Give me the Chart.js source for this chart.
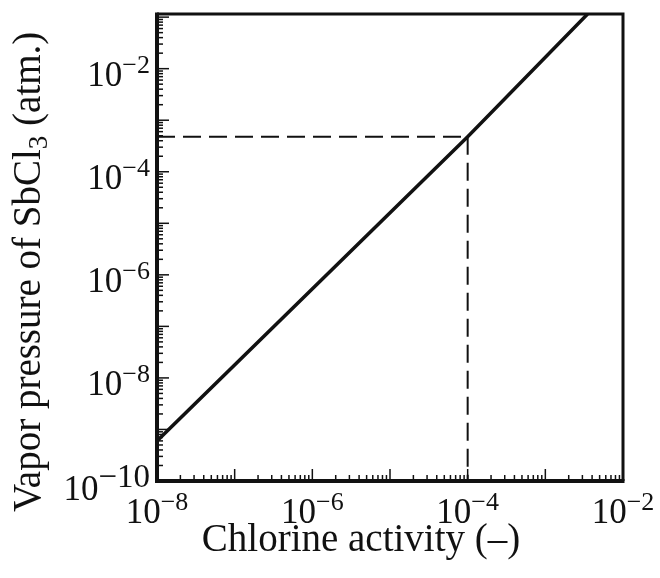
<!DOCTYPE html>
<html>
<head>
<meta charset="utf-8">
<title>SbCl3 vapor pressure vs chlorine activity</title>
<script src="https://cdn.jsdelivr.net/npm/chart.js"></script>
</head>
<body style="margin:0; background:#fff;">
<canvas id="c" width="660" height="578"></canvas>
<script>
// data
const lineX = [1e-8, 1e-4, 3.5e-3];
const lineY = [6e-10, 4.8e-4, 0.115];
const markX = 1e-4;
const markY = 4.8e-4;
const xMin = 1e-8, xMax = 1e-2;
const yMin = 1e-10, yMax = 0.115;
const xTickExp = ['\u22128', '\u22126', '\u22124', '\u22122'];
const xTickPow = [-8, -6, -4, -2];
const yTickExp = ['\u221210', '\u22128', '\u22126', '\u22124', '\u22122'];
const yTickPow = [-10, -8, -6, -4, -2];
const xTitle = 'Chlorine activity (\u2013)';

const ink = '#111';
const serif = '"Liberation Serif", "DejaVu Serif", serif';

function pow10(ctx, exp, x, y, align, baseSize, expSize) {
  ctx.font = baseSize + 'px ' + serif;
  const wb = ctx.measureText('10').width;
  ctx.font = expSize + 'px ' + serif;
  const we = ctx.measureText(exp).width;
  const x0 = align === 'right' ? x - wb - we : x - (wb + we) / 2;
  ctx.textAlign = 'left';
  ctx.textBaseline = 'alphabetic';
  ctx.font = baseSize + 'px ' + serif;
  ctx.fillText('10', x0, y);
  ctx.font = expSize + 'px ' + serif;
  ctx.fillText(exp, x0 + wb, y - 13);
}

const frame = {
  id: 'frame',
  afterDraw(chart) {
    const ctx = chart.ctx;
    const xs = chart.scales.x, ys = chart.scales.y;
    const a = chart.chartArea;
    ctx.save();
    ctx.strokeStyle = ink;
    ctx.fillStyle = ink;

    // inward ticks, bottom axis
    ctx.lineWidth = 1.5;
    for (let d = -8; d <= -2; d++) {
      for (let m = 1; m <= 9; m++) {
        const v = m * Math.pow(10, d);
        if (v > xMax * 1.0001) break;
        const px = xs.getPixelForValue(v);
        const len = m === 1 ? 12 : 6;
        ctx.beginPath();
        ctx.moveTo(px, a.bottom);
        ctx.lineTo(px, a.bottom - len);
        ctx.stroke();
      }
    }
    // inward ticks, left axis
    for (let d = -10; d <= -1; d++) {
      for (let m = 1; m <= 9; m++) {
        const v = m * Math.pow(10, d);
        if (v > yMax) break;
        const py = ys.getPixelForValue(v);
        const len = m === 1 ? 12 : 6;
        ctx.beginPath();
        ctx.moveTo(a.left, py);
        ctx.lineTo(a.left + len, py);
        ctx.stroke();
      }
    }

    // frame: heavier on the two axes
    ctx.lineWidth = 3;
    ctx.beginPath();
    ctx.moveTo(a.left, a.top);
    ctx.lineTo(a.right, a.top);
    ctx.lineTo(a.right, a.bottom);
    ctx.stroke();
    ctx.lineWidth = 4;
    ctx.beginPath();
    ctx.moveTo(a.left, a.top - 1.5);
    ctx.lineTo(a.left, a.bottom);
    ctx.lineTo(a.right + 1.5, a.bottom);
    ctx.stroke();

    // tick labels
    xTickPow.forEach((p, i) => {
      pow10(ctx, xTickExp[i], xs.getPixelForValue(Math.pow(10, p)), 523, 'center', 35, 26);
    });
    yTickPow.forEach((p, i) => {
      const py = ys.getPixelForValue(Math.pow(10, p));
      const big = p === -10;
      pow10(ctx, yTickExp[i], 150, py + (big ? 19 : 17.5), 'right', 35, big ? 33 : 26);
    });

    // axis titles
    ctx.font = '39px ' + serif;
    ctx.textAlign = 'center';
    ctx.fillText(xTitle, 361, 551);

    ctx.translate(40, 512);
    ctx.rotate(-Math.PI / 2);
    ctx.textAlign = 'left';
    let t = 'Vapor pressure of SbCl';
    ctx.font = '39px ' + serif;
    ctx.fillText(t, 0, 0);
    let w = ctx.measureText(t).width;
    ctx.font = '27px ' + serif;
    ctx.fillText('3', w, 7);
    w += ctx.measureText('3').width;
    ctx.font = '39px ' + serif;
    ctx.fillText(' (atm.)', w, 0);
    ctx.restore();
  }
};

new Chart(document.getElementById('c'), {
  type: 'scatter',
  data: {
    datasets: [
      {
        data: lineX.map((x, i) => ({ x: x, y: lineY[i] })),
        showLine: true,
        borderColor: ink,
        borderWidth: 3.5,
        pointRadius: 0
      },
      {
        data: [{ x: xMin, y: markY }, { x: markX, y: markY }],
        showLine: true,
        borderColor: ink,
        borderWidth: 2,
        borderDash: [18, 8],
        pointRadius: 0
      },
      {
        data: [{ x: markX, y: markY }, { x: markX, y: yMin }],
        showLine: true,
        borderColor: ink,
        borderWidth: 2,
        borderDash: [18, 8],
        pointRadius: 0
      }
    ]
  },
  options: {
    responsive: false,
    animation: false,
    layout: { padding: { left: 157, right: 37, top: 14, bottom: 97 } },
    plugins: { legend: { display: false }, tooltip: { enabled: false } },
    scales: {
      x: { type: 'logarithmic', min: xMin, max: xMax, display: false },
      y: { type: 'logarithmic', min: yMin, max: yMax, display: false }
    }
  },
  plugins: [frame]
});
</script>
</body>
</html>
